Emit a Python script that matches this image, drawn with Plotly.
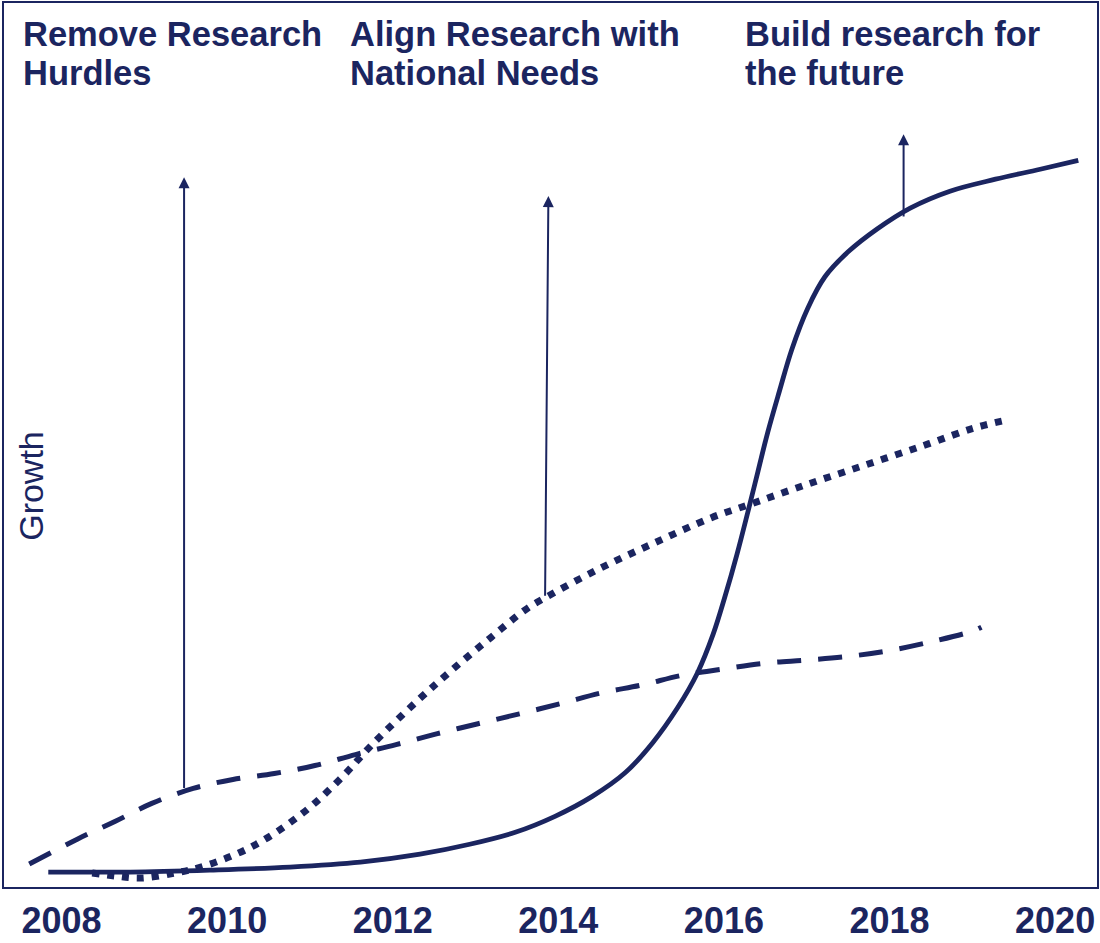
import plotly.graph_objects as go

NAVY = "#1b2560"
FONT = "Liberation Sans, Arial, sans-serif"

# ---- data (years on x, relative growth 0-100 on y) ----
solid_years = [2007.84, 2008.83, 2009.79, 2010.76, 2011.61, 2012.33, 2012.93, 2013.48,
               2013.96, 2014.41, 2014.81, 2015.14, 2015.44, 2015.68, 2015.87, 2016.01,
               2016.16, 2016.29, 2016.41, 2016.53, 2016.67, 2016.82, 2017.01, 2017.22,
               2017.50, 2017.85, 2018.25, 2018.73, 2019.28, 2019.82, 2020.28]
solid_growth = [1.80, 1.80, 2.02, 2.36, 2.92, 3.82, 4.94, 6.29,
                8.09, 10.34, 13.03, 16.40, 20.34, 24.27, 28.65, 32.81,
                37.75, 42.47, 46.97, 51.46, 56.07, 60.79, 65.39, 68.99,
                71.80, 74.38, 76.74, 78.65, 80.00, 81.12, 82.13]

dotted_years = [2008.37, 2008.65, 2008.95, 2009.37, 2009.72, 2010.31, 2010.91, 2011.36,
                2011.75, 2012.31, 2012.73, 2013.19, 2013.61, 2013.85, 2014.48, 2015.17,
                2015.85, 2016.30, 2016.99, 2017.71, 2018.43, 2019.02, 2019.41]
dotted_growth = [1.69, 1.35, 1.12, 1.69, 2.47, 4.72, 8.43, 12.25,
                 16.18, 21.24, 24.72, 28.31, 31.46, 32.81, 35.96, 38.99,
                 41.80, 43.26, 45.51, 47.75, 50.00, 51.91, 52.81]

dashed_years = [2007.61, 2008.19, 2008.65, 2009.09, 2009.59, 2010.07, 2010.57,
                2011.06, 2011.55, 2012.04, 2012.54, 2013.03, 2013.53, 2014.02, 2014.52,
                2015.01, 2015.51, 2016.00, 2016.51, 2017.02, 2017.54, 2018.03, 2018.54,
                2019.00, 2019.11]
dashed_growth = [2.70, 5.51, 7.53, 9.55, 11.24, 12.25, 12.92,
                 13.82, 15.06, 16.18, 17.42, 18.54, 19.66, 20.79, 22.02,
                 22.92, 24.04, 24.72, 25.39, 25.73, 26.18, 26.85, 27.87,
                 28.99, 29.44]

arrow_base_years = [2009.48, 2013.84, 2018.17]
arrow_base_growth = [11.12, 32.81, 75.62]
arrow_tip_years = [2009.48, 2013.88, 2018.17]
arrow_tip_growth = [80.22, 78.09, 85.06]

phase_line1 = ["Remove Research", "Align Research with", "Build research for"]
phase_line2 = ["Hurdles", "National Needs", "the future"]

tick_years = [2008, 2010, 2012, 2014, 2016, 2018, 2020]
tick_labels = ["2008", "2010", "2012", "2014", "2016", "2018", "2020"]
y_title = "Growth"

# ---- figure ----
W, H = 1100, 943
ML, MR, MT, MB = 3, 2, 2, 51
PW, PH = W - ML - MR, H - MT - MB


def px_x(p):
    return (p - ML) / PW


def px_y(p):
    return (H - MB - p) / PH


fig = go.Figure()
fig.add_trace(go.Scatter(x=dashed_years, y=dashed_growth, mode="lines",
                         line=dict(color=NAVY, width=5, dash="24px,17px", shape="spline", smoothing=1),
                         hoverinfo="skip"))
fig.add_trace(go.Scatter(x=dotted_years, y=dotted_growth, mode="lines",
                         line=dict(color=NAVY, width=7, dash="7px,8px", shape="spline", smoothing=1),
                         hoverinfo="skip"))
fig.add_trace(go.Scatter(x=solid_years, y=solid_growth, mode="lines",
                         line=dict(color=NAVY, width=4.8, shape="spline", smoothing=1),
                         hoverinfo="skip"))

for bx, by, tx, ty in zip(arrow_base_years, arrow_base_growth, arrow_tip_years, arrow_tip_growth):
    fig.add_annotation(x=tx, y=ty, ax=bx, ay=by, xref="x", yref="y", axref="x", ayref="y",
                       text="", showarrow=True, arrowhead=2, arrowsize=1.1, arrowwidth=2,
                       arrowcolor=NAVY, standoff=0, startstandoff=0)

text_left_px = [21, 348, 743]
for i, (l1, l2) in enumerate(zip(phase_line1, phase_line2)):
    fig.add_annotation(x=px_x(text_left_px[i]), y=px_y(33.7), xref="paper", yref="paper",
                       text=f"<b>{l1}</b>", showarrow=False, xanchor="left", yanchor="middle",
                       font=dict(family=FONT, size=34.5, color=NAVY))
    fig.add_annotation(x=px_x(text_left_px[i]), y=px_y(73.5), xref="paper", yref="paper",
                       text=f"<b>{l2}</b>", showarrow=False, xanchor="left", yanchor="middle",
                       font=dict(family=FONT, size=34.5, color=NAVY))

fig.add_annotation(x=px_x(31), y=px_y(488), xref="paper", yref="paper", text=y_title,
                   textangle=-90, showarrow=False, xanchor="center", yanchor="middle",
                   font=dict(family=FONT, size=34, color=NAVY))

fig.add_shape(type="rect", xref="paper", yref="paper", x0=0, x1=1, y0=0, y1=1,
              line=dict(color=NAVY, width=2), layer="above")

fig.update_layout(
    width=W, height=H,
    margin=dict(l=ML, r=MR, t=MT, b=MB, pad=0),
    paper_bgcolor="white", plot_bgcolor="white",
    showlegend=False,
    xaxis=dict(range=[2007.293, 2020.518], tickmode="array", tickvals=tick_years,
               ticktext=[f"<b>{t}</b>" for t in tick_labels], showgrid=False, zeroline=False,
               showline=False, ticks="", ticklabelstandoff=8,
               tickfont=dict(family=FONT, size=36, color=NAVY), fixedrange=True),
    yaxis=dict(range=[0, 100], showticklabels=False, showgrid=False, zeroline=False,
               showline=False, ticks="", fixedrange=True),
)

fig.write_html("out.html", config={"displayModeBar": False},
               post_script="document.body.style.margin='0';document.body.style.overflow='hidden';")
